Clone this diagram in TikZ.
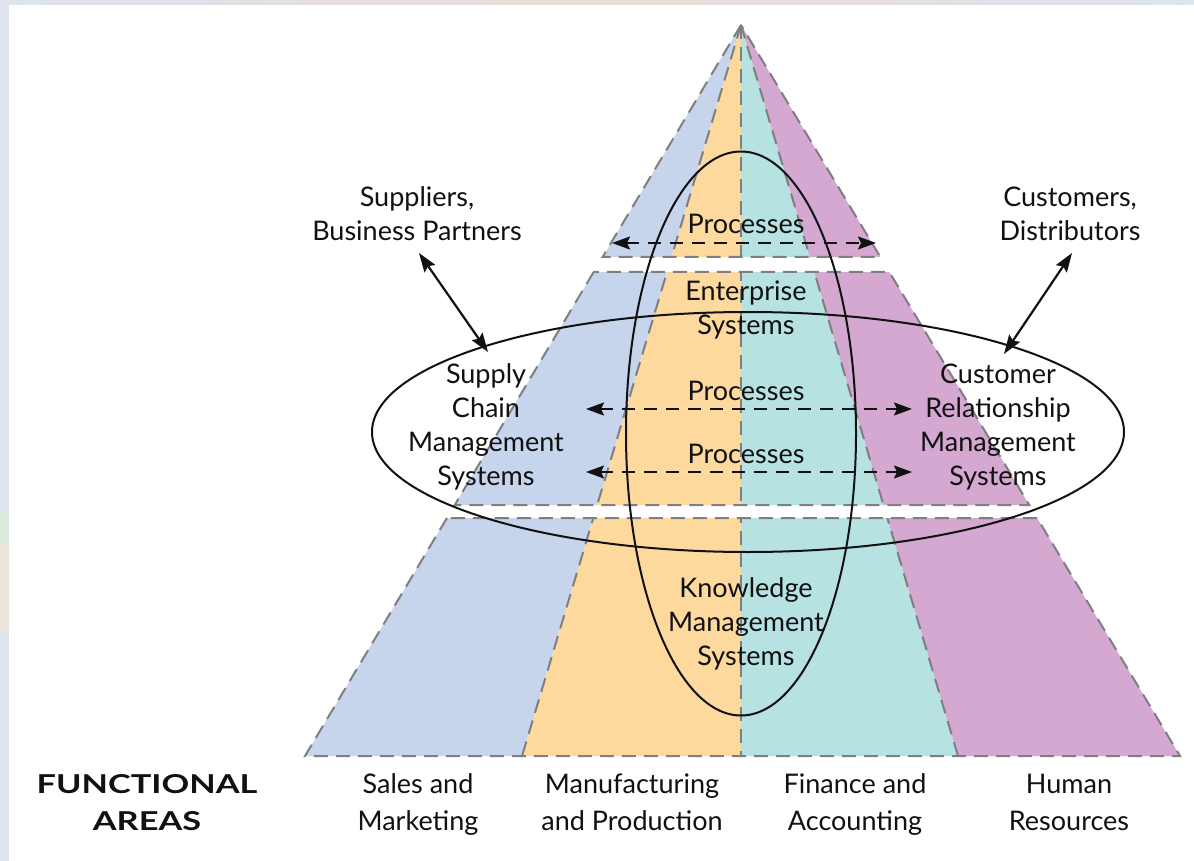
\documentclass[tikz,border=0pt]{standalone}
\usepackage{fontspec}
\setmainfont{Lato}
\usetikzlibrary{arrows.meta,calc}
\definecolor{cblue}{HTML}{C6D4EC}
\definecolor{corange}{HTML}{FED99E}
\definecolor{cteal}{HTML}{B6E2E1}
\definecolor{cpurple}{HTML}{D4A8D0}
\definecolor{cgray}{HTML}{7F7F7F}
\definecolor{cframe}{HTML}{DDE3EF}
\definecolor{cink}{HTML}{111111}
\definecolor{cpink}{HTML}{ECDCD8}
\definecolor{cgreen}{HTML}{DCE9DE}
\definecolor{cbeige}{HTML}{ECE6DC}
\begin{document}
\begin{tikzpicture}[x=1pt,y=-1pt,
  gdash/.style={draw=cgray,line width=2pt,dash pattern=on 14pt off 8pt},
  ring/.style={draw=cink,line width=2pt},
  flow/.style={draw=cink,line width=1.9pt,dash pattern=on 13pt off 9pt,
    {Stealth[length=18pt,width=13pt,inset=3pt]}-{Stealth[length=18pt,width=13pt,inset=3pt]}},
  link/.style={draw=cink,line width=2.2pt,
    {Stealth[length=19pt,width=13pt,inset=3pt]}-{Stealth[length=19pt,width=13pt,inset=3pt]}},
  lbl/.style={inner sep=0pt,align=center,text=cink,font=\fontsize{27}{34}\selectfont},
  area/.style={lbl,font=\fontsize{27}{37}\selectfont}
]
\useasboundingbox (0,0) rectangle (1194,861);
% frame
\fill[cframe] (0,0) rectangle (1194,861);
\shade[left color=cframe,right color=cframe,middle color=cpink] (0,0) rectangle (1194,5);
\fill[white] (9,5) rectangle (1194,861);
\fill[cgreen] (0,512) rectangle (9,543);
\fill[cbeige] (0,543) rectangle (9,633);

% pyramid geometry
\coordinate (A) at (741,25);
\coordinate (L) at (305,756);
\coordinate (B1) at (522,756);
\coordinate (C) at (741,756);
\coordinate (B2) at (958,756);
\coordinate (R) at (1180,756);
\foreach \n/\t in {1/0.31737,2/0.33789,3/0.65663,4/0.67442}{
  \coordinate (L\n) at ($(A)!\t!(L)$);
  \coordinate (R\n) at ($(A)!\t!(R)$);
}
\begin{scope}
  \clip (0,20) rectangle (1194,257) (0,272) rectangle (1194,505) (0,518) rectangle (1194,756);
  \fill[cblue] (A) -- (L) -- (B1) -- cycle;
  \fill[corange] (A) -- (B1) -- (C) -- cycle;
  \fill[cteal] (A) -- (C) -- (B2) -- cycle;
  \fill[cpurple] (A) -- (B2) -- (R) -- cycle;
  \draw[gdash] (A) -- (B1);
  \draw[gdash] (A) -- (C);
  \draw[gdash] (A) -- (B2);
\end{scope}
% outer dashed edges
\draw[gdash] (A) -- (L1) -- (R1) -- (A);
\draw[gdash] (L2) -- (L3) -- (R3) -- (R2) -- cycle;
\draw[gdash] (L4) -- (L) -- (R) -- (R4) -- cycle;

% ellipses
\draw[ring] (741,433.5) ellipse [x radius=115, y radius=282];
\draw[ring] (748,432) ellipse [x radius=376, y radius=120];

% process arrows
\coordinate (p1l) at (612,243); \coordinate (p1r) at (876,243);
\coordinate (p2l) at (586,409); \coordinate (p2r) at (912,409);
\coordinate (p3l) at (586,472); \coordinate (p3r) at (912,472);
\draw[flow] (p1l) -- (p1r);
\draw[flow] (p2l) -- (p2r);
\draw[flow] (p3l) -- (p3r);

% labels
\node[lbl] (sup) at (417,214) {Suppliers,\\Business Partners};
\node[lbl] (cus) at (1070,214) {Customers,\\Distributors};
\node[lbl] (pr1) at (746,224) {Processes};
\node[lbl] (ent) at (746,310) {Enterprise\\Systems};
\node[lbl] (pr2) at (746,391) {Processes};
\node[lbl] (pr3) at (746,454) {Processes};
\node[lbl] (scm) at (486,427) {Supply\\Chain\\Management\\Systems};
\node[lbl] (crm) at (998,427) {Customer\\Relationship\\Management\\Systems};
\node[lbl] (kms) at (746,624) {Knowledge\\Management\\Systems};
\node[area,font=\fontsize{26}{37}\selectfont\bfseries] (fa) at (147,805) {\strut\scalebox{1.32}[1]{FUNCTIONAL}\\\strut\scalebox{1.32}[1]{AREAS}};
\node[area] (f1) at (418,805) {\strut Sales and\\\strut Marketing};
\node[area] (f2) at (632,805) {\strut Manufacturing\\\strut and Production};
\node[area] (f3) at (855,805) {\strut Finance and\\\strut Accounting};
\node[area] (f4) at (1069,805) {\strut Human\\\strut Resources};

% partner arrows
\coordinate (sa) at (419,253); \coordinate (sb) at (488,352);
\coordinate (ca) at (1072,253); \coordinate (cb) at (1004,354);
\draw[link] (sa) -- (sb);
\draw[link] (ca) -- (cb);
\end{tikzpicture}
\end{document}
